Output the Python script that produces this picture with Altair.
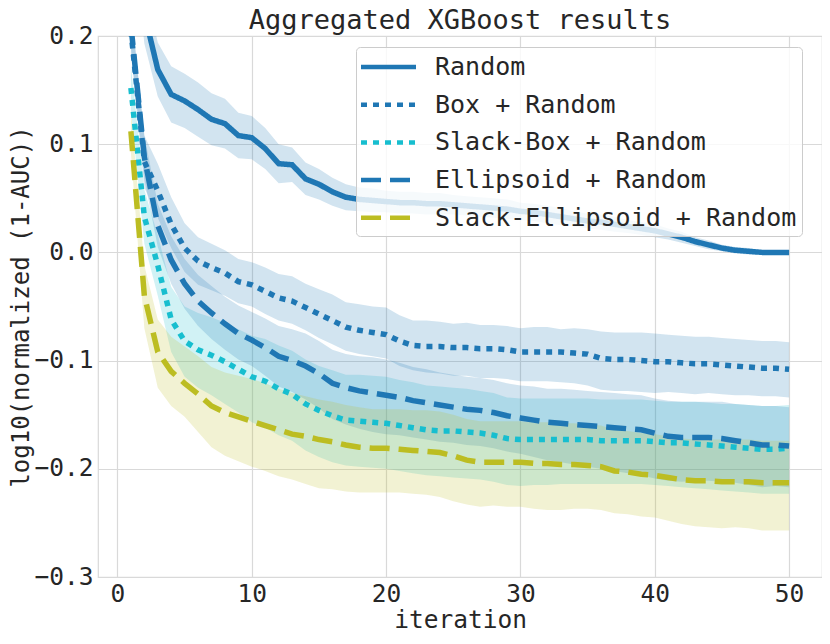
import altair as alt
import pandas as pd

iterations = list(range(1, 51))
series_names = ["Random", "Box + Random", "Slack-Box + Random",
                "Ellipsoid + Random", "Slack-Ellipsoid + Random"]
series_colors = ["#1f77b4", "#1f77b4", "#17becf", "#1f77b4", "#bcbd22"]
series_dashes = [[1, 0], [6, 6], [6, 6], [20, 9], [20, 9]]

random_mean = [0.350, 0.221, 0.169, 0.146, 0.140, 0.132, 0.123, 0.119, 0.108, 0.106,
               0.096, 0.082, 0.081, 0.068, 0.063, 0.056, 0.051, 0.049, 0.048, 0.047,
               0.046, 0.046, 0.045, 0.045, 0.044, 0.043, 0.042, 0.041, 0.040, 0.038,
               0.037, 0.035, 0.033, 0.031, 0.029, 0.028, 0.026, 0.024, 0.022, 0.020,
               0.017, 0.014, 0.010, 0.007, 0.004, 0.002, 0.001, 0.000, 0.000, 0.000]
random_up = [0.030, 0.028, 0.025, 0.026, 0.025, 0.025, 0.024, 0.023, 0.021, 0.020,
             0.019, 0.018, 0.016, 0.015, 0.014, 0.013, 0.012, 0.011, 0.011, 0.010,
             0.010, 0.010, 0.010, 0.010, 0.009, 0.009, 0.009, 0.009, 0.009, 0.008,
             0.008, 0.008, 0.008, 0.007, 0.007, 0.007, 0.007, 0.006, 0.006, 0.006,
             0.005, 0.005, 0.004, 0.004, 0.003, 0.003, 0.003, 0.002, 0.002, 0.002]
random_lo = random_up

box_mean = [0.205, 0.084, 0.057, 0.026, 0.004, -0.008, -0.014, -0.019, -0.027, -0.030,
            -0.036, -0.042, -0.045, -0.051, -0.057, -0.063, -0.069, -0.072, -0.074, -0.076,
            -0.082, -0.086, -0.087, -0.087, -0.088, -0.088, -0.089, -0.089, -0.090, -0.092,
            -0.092, -0.092, -0.092, -0.093, -0.094, -0.098, -0.099, -0.099, -0.100, -0.101,
            -0.101, -0.102, -0.103, -0.103, -0.104, -0.105, -0.106, -0.107, -0.107, -0.108]
box_up = [0.020, 0.024, 0.025, 0.025, 0.023, 0.022, 0.022, 0.021, 0.021, 0.021,
          0.022, 0.022, 0.023, 0.022, 0.023, 0.024, 0.023, 0.024, 0.024, 0.025,
          0.024, 0.023, 0.024, 0.023, 0.022, 0.023, 0.022, 0.022, 0.022, 0.022,
          0.023, 0.023, 0.021, 0.023, 0.023, 0.025, 0.025, 0.025, 0.026, 0.026,
          0.025, 0.025, 0.025, 0.025, 0.025, 0.025, 0.025, 0.025, 0.025, 0.025]
box_lo = [0.020, 0.024, 0.025, 0.022, 0.022, 0.022, 0.021, 0.021, 0.020, 0.020,
          0.021, 0.021, 0.021, 0.021, 0.022, 0.022, 0.022, 0.022, 0.022, 0.022,
          0.023, 0.023, 0.024, 0.025, 0.026, 0.026, 0.027, 0.027, 0.027, 0.027,
          0.027, 0.027, 0.028, 0.028, 0.029, 0.029, 0.029, 0.029, 0.029, 0.029,
          0.028, 0.028, 0.028, 0.027, 0.027, 0.027, 0.026, 0.026, 0.026, 0.026]

slackbox_mean = [0.152, 0.033, -0.012, -0.062, -0.082, -0.090, -0.095, -0.101, -0.108, -0.115,
                 -0.119, -0.126, -0.131, -0.140, -0.146, -0.151, -0.155, -0.156, -0.157, -0.158,
                 -0.160, -0.162, -0.164, -0.165, -0.165, -0.166, -0.167, -0.169, -0.172, -0.173,
                 -0.173, -0.173, -0.173, -0.173, -0.173, -0.174, -0.174, -0.174, -0.174, -0.175,
                 -0.176, -0.176, -0.177, -0.178, -0.179, -0.180, -0.181, -0.182, -0.182, -0.181]
slackbox_up = [0.020, 0.025, 0.028, 0.030, 0.032, 0.034, 0.035, 0.036, 0.037, 0.038,
               0.039, 0.040, 0.040, 0.041, 0.041, 0.042, 0.042, 0.043, 0.043, 0.043,
               0.042, 0.042, 0.041, 0.041, 0.040, 0.040, 0.039, 0.039, 0.038, 0.038,
               0.038, 0.038, 0.038, 0.038, 0.038, 0.038, 0.038, 0.038, 0.038, 0.038,
               0.038, 0.038, 0.039, 0.039, 0.039, 0.040, 0.040, 0.040, 0.040, 0.040]
slackbox_lo = [0.020, 0.025, 0.028, 0.030, 0.033, 0.035, 0.037, 0.039, 0.040, 0.042,
               0.043, 0.043, 0.043, 0.043, 0.043, 0.043, 0.042, 0.042, 0.042, 0.042,
               0.042, 0.042, 0.042, 0.042, 0.043, 0.043, 0.043, 0.043, 0.043, 0.043,
               0.042, 0.042, 0.041, 0.041, 0.041, 0.040, 0.040, 0.040, 0.040, 0.040,
               0.040, 0.041, 0.041, 0.041, 0.041, 0.041, 0.041, 0.041, 0.041, 0.042]

ellipsoid_mean = [0.210, 0.088, 0.025, -0.007, -0.029, -0.045, -0.056, -0.066, -0.075, -0.081,
                  -0.088, -0.096, -0.100, -0.105, -0.112, -0.121, -0.125, -0.128, -0.130, -0.132,
                  -0.134, -0.137, -0.139, -0.141, -0.143, -0.145, -0.146, -0.148, -0.151, -0.153,
                  -0.155, -0.157, -0.158, -0.159, -0.160, -0.161, -0.162, -0.163, -0.164, -0.167,
                  -0.170, -0.171, -0.171, -0.171, -0.172, -0.174, -0.176, -0.178, -0.178, -0.179]
ellipsoid_up = [0.020, 0.020, 0.020, 0.022, 0.023, 0.024, 0.025, 0.025, 0.026, 0.026,
                0.027, 0.028, 0.029, 0.030, 0.030, 0.031, 0.031, 0.032, 0.033, 0.033,
                0.032, 0.031, 0.031, 0.030, 0.030, 0.030, 0.030, 0.030, 0.030, 0.030,
                0.031, 0.031, 0.032, 0.032, 0.032, 0.032, 0.032, 0.032, 0.032, 0.032,
                0.033, 0.033, 0.033, 0.033, 0.034, 0.034, 0.035, 0.036, 0.036, 0.036]
ellipsoid_lo = [0.020, 0.020, 0.020, 0.022, 0.023, 0.023, 0.024, 0.024, 0.024, 0.024,
                0.026, 0.028, 0.029, 0.031, 0.032, 0.033, 0.034, 0.035, 0.036, 0.036,
                0.035, 0.034, 0.034, 0.034, 0.033, 0.033, 0.033, 0.033, 0.033, 0.033,
                0.034, 0.035, 0.036, 0.037, 0.038, 0.039, 0.040, 0.041, 0.042, 0.042,
                0.041, 0.041, 0.040, 0.040, 0.040, 0.039, 0.039, 0.039, 0.038, 0.038]

slackell_mean = [0.112, -0.040, -0.092, -0.110, -0.121, -0.131, -0.142, -0.148, -0.152, -0.156,
                 -0.160, -0.164, -0.168, -0.170, -0.173, -0.175, -0.178, -0.180, -0.181, -0.181,
                 -0.182, -0.183, -0.184, -0.185, -0.188, -0.192, -0.194, -0.194, -0.194, -0.194,
                 -0.195, -0.195, -0.196, -0.196, -0.197, -0.198, -0.202, -0.203, -0.205, -0.206,
                 -0.208, -0.210, -0.211, -0.211, -0.212, -0.212, -0.212, -0.213, -0.213, -0.213]
slackell_up = [0.020, 0.028, 0.030, 0.032, 0.034, 0.035, 0.036, 0.037, 0.038, 0.039,
               0.039, 0.038, 0.038, 0.037, 0.037, 0.037, 0.037, 0.037, 0.036, 0.036,
               0.037, 0.037, 0.038, 0.038, 0.038, 0.038, 0.038, 0.038, 0.038, 0.038,
               0.038, 0.038, 0.038, 0.038, 0.038, 0.038, 0.038, 0.038, 0.038, 0.038,
               0.038, 0.038, 0.038, 0.038, 0.039, 0.039, 0.039, 0.039, 0.039, 0.039]
slackell_lo = [0.020, 0.030, 0.033, 0.032, 0.031, 0.035, 0.038, 0.040, 0.041, 0.042,
               0.042, 0.043, 0.042, 0.044, 0.045, 0.044, 0.043, 0.042, 0.041, 0.041,
               0.040, 0.040, 0.040, 0.041, 0.042, 0.041, 0.041, 0.040, 0.041, 0.041,
               0.042, 0.043, 0.042, 0.041, 0.040, 0.040, 0.039, 0.039, 0.039, 0.039,
               0.040, 0.041, 0.042, 0.043, 0.043, 0.042, 0.043, 0.044, 0.044, 0.044]

series_data = [
    (series_names[0], random_mean, random_up, random_lo),
    (series_names[1], box_mean, box_up, box_lo),
    (series_names[2], slackbox_mean, slackbox_up, slackbox_lo),
    (series_names[3], ellipsoid_mean, ellipsoid_up, ellipsoid_lo),
    (series_names[4], slackell_mean, slackell_up, slackell_lo),
]

rows = []
for order, (name, mean, up, lo) in enumerate(series_data):
    for i, it in enumerate(iterations):
        rows.append({"series": name, "order": order, "iteration": it,
                     "value": mean[i], "upper": mean[i] + up[i], "lower": mean[i] - lo[i]})
df = pd.DataFrame(rows)

FONT = "DejaVu Sans Mono"
TXT = "#262626"

xscale = alt.Scale(domain=[-1.45, 52.45], nice=False, zero=False)
yscale = alt.Scale(domain=[-0.3, 0.2], nice=False, zero=False)

xaxis = alt.Axis(values=[0, 10, 20, 30, 40, 50], format="d", title="iteration",
                 ticks=False, domain=False, labelPadding=5, titlePadding=3)
yaxis = alt.Axis(values=[-0.3, -0.2, -0.1, 0.0, 0.1, 0.2],
                 labelExpr="replace(format(datum.value, '.1f'), '-', '\u2212')",
                 title="log10(normalized (1-AUC))", ticks=False, domain=False,
                 labelPadding=5, titlePadding=0, titleFontSize=24)

legend = alt.Legend(title=None, orient="none", legendX=258, legendY=11,
                    labelFont=FONT, labelFontSize=25, labelColor=TXT, labelLimit=600,
                    symbolType="M-1.2,0H3.2", symbolSize=625, symbolStrokeWidth=4.5,
                    labelOffset=44, padding=5, rowPadding=9.7,
                    fillColor="rgba(255,255,255,0.8)", strokeColor="#cccccc",
                    cornerRadius=4)

color_scale = alt.Scale(domain=series_names, range=series_colors)
dash_scale = alt.Scale(domain=series_names, range=series_dashes)
# fill scale for the bands (different domain order so it is not merged with the line legend)
fill_domain = sorted(series_names)
fill_range = [series_colors[series_names.index(n)] for n in fill_domain]
fill_scale = alt.Scale(domain=fill_domain, range=fill_range)

base = alt.Chart(df)

bands = base.mark_area(opacity=0.2, clip=True).encode(
    x=alt.X("iteration:Q", scale=xscale, axis=xaxis),
    y=alt.Y("lower:Q", scale=yscale, axis=yaxis),
    y2="upper:Q",
    fill=alt.Fill("series:N", scale=fill_scale, legend=None),
    order="order:Q",
)

lines = base.mark_line(strokeWidth=5.5, clip=True, strokeCap="butt").encode(
    x=alt.X("iteration:Q", scale=xscale),
    y=alt.Y("value:Q", scale=yscale),
    color=alt.Color("series:N", scale=color_scale, legend=legend),
    strokeDash=alt.StrokeDash("series:N", scale=dash_scale, legend=legend),
)

chart = alt.layer(bands, lines).properties(
    width=724, height=541,
    padding={"left": 90, "top": 28, "right": 0, "bottom": 57},
    autosize=alt.AutoSizeParams(type="none"),
    title=alt.TitleParams("Aggregated XGBoost results", font=FONT, fontSize=27,
                          fontWeight="normal", color=TXT, anchor="middle", offset=-12),
).configure_axis(
    labelFont=FONT, labelFontSize=24.5, labelColor=TXT,
    titleFont=FONT, titleFontSize=24.5, titleFontWeight="normal", titleColor=TXT,
    gridColor="#d9d9d9", gridWidth=1.2,
).configure_view(stroke="#d9d9d9", strokeWidth=1.2)

chart.save("out.html", embed_options={"renderer": "svg", "actions": False})
